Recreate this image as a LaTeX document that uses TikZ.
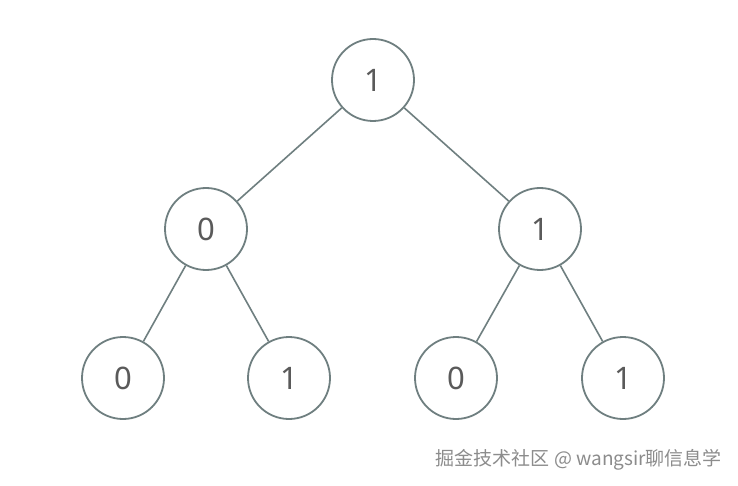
\documentclass[tikz,border=0pt]{standalone}
\usepackage{fontspec}
\setmainfont{Noto Sans}
\newfontfamily\cjk{Noto Sans CJK SC}
\definecolor{edgec}{HTML}{6F7F80}
\definecolor{textc}{HTML}{5A5A5A}
\definecolor{wmc}{HTML}{8C8C8C}
\begin{document}
\begin{tikzpicture}[x=1pt,y=-1pt,
  tnode/.style={circle,draw=edgec,line width=1.8pt,minimum size=82pt,inner sep=0pt,
    text=textc,font=\fontsize{31}{31}\selectfont},
  tedge/.style={draw=edgec,line width=1.6pt}]
\useasboundingbox[fill=white] (0,0) rectangle (738,486);
\node[tnode] (r) at (373,80) {1};
\node[tnode] (a) at (206,229) {0};
\node[tnode] (b) at (540,229) {1};
\node[tnode] (c) at (123,378) {0};
\node[tnode] (d) at (289,378) {1};
\node[tnode] (e) at (456,378) {0};
\node[tnode] (f) at (623,378) {1};
\draw[tedge] (r) -- (a);
\draw[tedge] (r) -- (b);
\draw[tedge] (a) -- (c);
\draw[tedge] (a) -- (d);
\draw[tedge] (b) -- (e);
\draw[tedge] (b) -- (f);
\node[text=wmc,font=\cjk\fontsize{19}{19}\selectfont,anchor=east,inner sep=0pt] (wm) at (722,460) {掘金技术社区 @ wangsir聊信息学};
\end{tikzpicture}
\end{document}
